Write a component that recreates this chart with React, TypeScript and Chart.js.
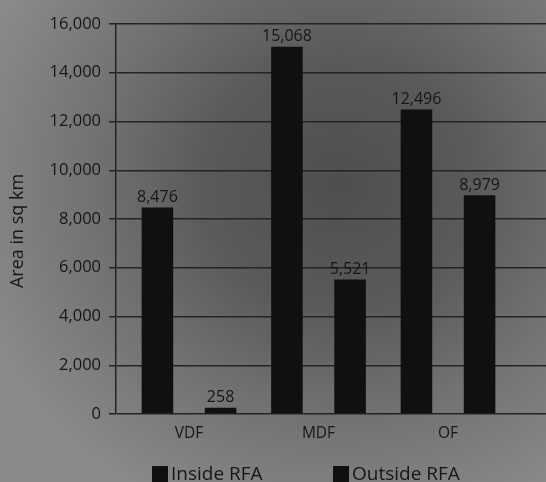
import React, { useEffect, useRef } from "react";
import { Chart, registerables } from "chart.js";

Chart.register(...registerables);

const categories = ["VDF", "MDF", "OF"];
const insideRFA = [8476, 15068, 12496];
const outsideRFA = [258, 5521, 8979];
const seriesNames = ["Inside RFA", "Outside RFA"];
const yTicks = [0, 2000, 4000, 6000, 8000, 10000, 12000, 14000, 16000];
const yTitle = "Area in sq km";

const W = 546;
const H = 482;
const FONT = "'Open Sans', 'DejaVu Sans', sans-serif";
const TEXT = "#161616";
const BAR = "#101010";

const fmt = (v: number) => v.toLocaleString("en-US");

const overlay = {
  id: "overlay",
  afterDatasetsDraw(chart: any) {
    const ctx = chart.ctx;
    ctx.save();
    ctx.fillStyle = TEXT;
    ctx.font = `16px ${FONT}`;
    ctx.textAlign = "center";
    ctx.textBaseline = "bottom";
    chart.data.datasets.forEach((ds: any, di: number) => {
      const meta = chart.getDatasetMeta(di);
      meta.data.forEach((bar: any, i: number) => {
        ctx.fillText(fmt(ds.data[i].y), bar.x, bar.y - 2);
      });
    });
    ctx.restore();
  },
  afterDraw(chart: any) {
    const ctx = chart.ctx;
    ctx.save();
    // y axis title
    ctx.fillStyle = TEXT;
    ctx.font = `18px ${FONT}`;
    ctx.textAlign = "center";
    ctx.textBaseline = "middle";
    ctx.translate(18, 231);
    ctx.rotate(-Math.PI / 2);
    ctx.fillText(yTitle, 0, 0);
    ctx.restore();

    ctx.save();
    ctx.font = `19px ${FONT}`;
    ctx.textBaseline = "middle";
    ctx.textAlign = "left";
    const y = 474;
    const starts = [152, 333];
    chart.data.datasets.forEach((ds: any, di: number) => {
      const x = starts[di];
      ctx.fillStyle = ds.backgroundColor;
      ctx.fillRect(x, y - 8, 16, 16);
      ctx.fillStyle = TEXT;
      ctx.fillText(ds.label, x + 19, y + 1);
    });
    ctx.restore();
  },
};

export default function App() {
  const ref = useRef<HTMLCanvasElement>(null);
  useEffect(() => {
    if (!ref.current) return;
    const unit = 129.5;
    const left = 116;
    const xMin = -(189 - left) / unit;
    const xMax = xMin + (W - left) / unit;
    const chart = new Chart(ref.current, {
      type: "bar",
      data: {
        datasets: [
          {
            label: seriesNames[0],
            data: insideRFA.map((v, i) => ({ x: i, y: v })),
            backgroundColor: BAR,
          },
          {
            label: seriesNames[1],
            data: outsideRFA.map((v, i) => ({ x: i, y: v })),
            backgroundColor: BAR,
          },
        ],
      } as any,
      options: {
        animation: false,
        responsive: false,
        devicePixelRatio: 1,
        categoryPercentage: 0.975,
        barPercentage: 0.5,
        layout: { padding: { top: 24, left: 0, right: 0, bottom: 0 } },
        plugins: {
          legend: { display: false },
          tooltip: { enabled: false },
        },
        scales: {
          x: {
            type: "linear",
            offset: false,
            min: xMin,
            max: xMax,
            afterBuildTicks: (ax: any) => {
              ax.ticks = categories.map((_, i) => ({ value: i }));
            },
            afterFit: (s: any) => {
              s.height = H - 414;
            },
            grid: { display: false, drawTicks: false },
            border: { display: false },
            ticks: {
              autoSkip: false,
              maxRotation: 0,
              padding: 10,
              color: TEXT,
              font: { family: FONT, size: 15.5 },
              callback: (v: any) => categories[v] ?? "",
            },
          },
          y: {
            min: 0,
            max: 16000,
            afterBuildTicks: (ax: any) => {
              ax.ticks = yTicks.map((v) => ({ value: v }));
            },
            afterFit: (s: any) => {
              s.width = left;
            },
            grid: { color: "#242424", lineWidth: 1.5, tickLength: 7 },
            border: { color: "#242424", width: 1.5 },
            ticks: {
              padding: 8,
              color: TEXT,
              font: { family: FONT, size: 16.5 },
              callback: (v: any) => fmt(Number(v)),
            },
          },
        },
      } as any,
      plugins: [overlay],
    });
    return () => chart.destroy();
  }, []);

  return (
    <div
      style={{
        position: "fixed",
        left: 0,
        top: 0,
        width: W,
        height: H,
        overflow: "hidden",
        background:
          "radial-gradient(ellipse 70% 75% at 62% 38%, #4e4e4e 0%, #5a5a5a 35%, #727272 65%, #8a8a8a 100%)",
      }}
    >
      <canvas ref={ref} width={W} height={H} style={{ display: "block", width: W, height: H }} />
    </div>
  );
}
